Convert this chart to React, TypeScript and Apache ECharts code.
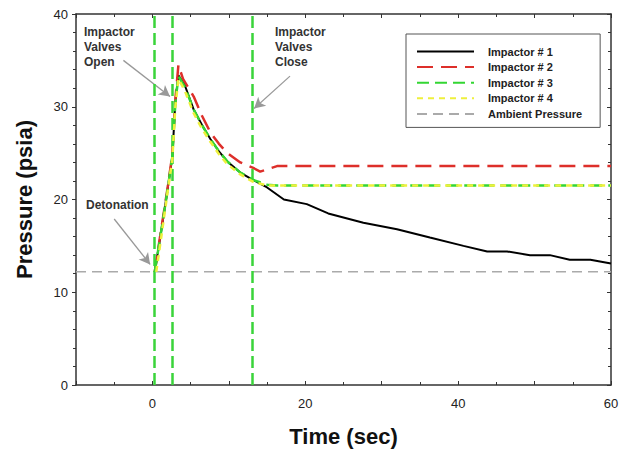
import React, { useEffect, useRef } from "react";
import * as echarts from "echarts";

const seriesNames = ["Impactor # 1", "Impactor # 2", "Impactor # 3", "Impactor # 4", "Ambient Pressure"];

const impactor1: [number, number][] = [
  [0.3, 12.2], [1.0, 15.8], [1.9, 20.6], [2.6, 24.6], [3.0, 30.6], [3.4, 33.4], [3.7, 33.0],
  [4.2, 32.4], [5.4, 29.7], [6.5, 28.0], [7.6, 26.5], [8.7, 25.2], [9.8, 24.1], [11.5, 22.9],
  [13.2, 22.1], [15.0, 21.3], [17.2, 20.0], [20.2, 19.5], [23.0, 18.5], [27.6, 17.5], [32.0, 16.8],
  [36.3, 15.9], [40.7, 15.0], [43.8, 14.4], [46.4, 14.4], [49.4, 14.0], [52.0, 14.0], [54.6, 13.5],
  [57.3, 13.5], [60.0, 13.1],
];

const impactor2: [number, number][] = [
  [0.3, 12.2], [1.0, 16.0], [1.9, 20.8], [2.6, 24.8], [3.0, 30.8], [3.4, 34.5], [4.0, 33.0],
  [5.4, 31.1], [6.5, 29.0], [7.6, 27.2], [8.7, 26.0], [9.8, 25.0], [11.5, 24.0], [13.2, 23.4],
  [14.1, 23.0], [16.3, 23.6], [60.0, 23.6],
];

const impactor3: [number, number][] = [
  [0.3, 12.2], [1.0, 15.8], [1.9, 20.6], [2.6, 24.6], [3.0, 30.4], [3.4, 33.3], [4.2, 32.2],
  [5.4, 29.7], [6.5, 28.0], [7.6, 26.5], [8.7, 25.2], [9.8, 24.1], [11.5, 22.9], [13.2, 22.1],
  [15.0, 21.6], [16.3, 21.5], [60.0, 21.5],
];

const impactor4: [number, number][] = [
  [0.5, 12.2], [1.2, 16.2], [1.9, 20.3], [2.6, 24.3], [3.0, 30.0], [3.4, 33.0], [4.2, 31.8],
  [5.4, 29.3], [6.5, 27.6], [7.6, 26.2], [8.7, 24.9], [9.8, 23.8], [11.5, 22.7], [13.2, 21.9],
  [15.0, 21.5], [60.0, 21.5],
];

const ambient: [number, number][] = [[-10, 12.2], [60, 12.2]];

const valveTimes = [0.25, 2.6, 13.1];

const arrows: { from: [number, number]; to: [number, number] }[] = [
  { from: [-3.8, 35.0], to: [2.3, 31.1] },
  { from: [18.0, 33.3], to: [13.3, 29.8] },
  { from: [-5.0, 17.9], to: [-0.3, 13.0] },
];

const xTicks = [0, 20, 40, 60];

export default function App() {
  const ref = useRef<HTMLDivElement>(null);

  useEffect(() => {
    if (!ref.current) return;
    const chart = echarts.init(ref.current, null, { renderer: "svg" });
    const font = "Liberation Sans";
    const axisLineStyle = { color: "#333", width: 1.5 };

    chart.setOption({
      animation: false,
      backgroundColor: "#fff",
      textStyle: { fontFamily: font },
      grid: { left: 76, right: 20, top: 14, bottom: 66, containLabel: false },
      legend: {
        data: seriesNames,
        orient: "vertical",
        left: 406,
        top: 34,
        padding: [12, 18, 8, 10],
        borderColor: "#555",
        borderWidth: 1,
        backgroundColor: "#fff",
        itemWidth: 57,
        itemHeight: 12,
        itemGap: 4.6,
        itemStyle: { opacity: 0 },
        textStyle: { fontFamily: font, fontSize: 11, fontWeight: "bold", color: "#222", padding: [0, 0, 0, 9] },
      },
      xAxis: [
        {
          type: "value",
          min: -10,
          max: 60,
          interval: 10,
          name: "Time (sec)",
          nameLocation: "middle",
          nameGap: 40,
          nameTextStyle: { fontFamily: font, fontSize: 22, fontWeight: "bold", color: "#111" },
          axisLine: { show: true, onZero: false, lineStyle: axisLineStyle },
          axisTick: { show: true, inside: true, length: 4, lineStyle: { color: "#333" } },
          minorTick: { show: true, splitNumber: 2, length: 3, lineStyle: { color: "#333" } },
          splitLine: { show: false },
          axisLabel: {
            fontFamily: font,
            fontSize: 13,
            color: "#222",
            margin: 12,
            formatter: (v: number) => (xTicks.includes(v) ? String(v) : ""),
          },
        },
        {
          type: "value",
          position: "top",
          min: -10,
          max: 60,
          interval: 10,
          axisLine: { show: true, onZero: false, lineStyle: axisLineStyle },
          axisTick: { show: true, inside: true, length: 4, lineStyle: { color: "#333" } },
          minorTick: { show: true, splitNumber: 2, length: 3, lineStyle: { color: "#333" } },
          splitLine: { show: false },
          axisLabel: { show: false },
        },
      ],
      yAxis: [
        {
          type: "value",
          min: 0,
          max: 40,
          interval: 10,
          name: "Pressure (psia)",
          nameLocation: "middle",
          nameGap: 41,
          nameTextStyle: { fontFamily: font, fontSize: 22, fontWeight: "bold", color: "#111" },
          axisLine: { show: true, onZero: false, lineStyle: axisLineStyle },
          axisTick: { show: true, length: 4, lineStyle: { color: "#333" } },
          minorTick: { show: true, splitNumber: 5, length: 3, lineStyle: { color: "#333" } },
          splitLine: { show: false },
          axisLabel: { fontFamily: font, fontSize: 13, color: "#222", margin: 8 },
        },
        {
          type: "value",
          position: "right",
          min: 0,
          max: 40,
          interval: 10,
          axisLine: { show: true, onZero: false, lineStyle: axisLineStyle },
          axisTick: { show: true, inside: true, length: 4, lineStyle: { color: "#333" } },
          minorTick: { show: true, splitNumber: 5, length: 3, lineStyle: { color: "#333" } },
          splitLine: { show: false },
          axisLabel: { show: false },
        },
      ],
      series: [
        {
          name: "Ambient Pressure",
          type: "line",
          data: ambient,
          symbol: "none",
          z: 1,
          lineStyle: { color: "#aaa", width: 1.5, type: [10, 6] },
          itemStyle: { color: "#aaa" },
          markLine: {
            silent: true,
            symbol: ["none", "arrow"],
            symbolSize: [9, 11],
            label: { show: false },
            lineStyle: { color: "#999", width: 1.3, type: "solid" },
            data: arrows.map((a) => [{ coord: a.from }, { coord: a.to }]),
          },
        },
        {
          name: "Valves",
          type: "line",
          data: [],
          symbol: "none",
          z: 2,
          markLine: {
            silent: true,
            symbol: ["none", "none"],
            label: { show: false },
            lineStyle: { color: "#3ad43a", width: 2.5, type: [12, 5] },
            data: valveTimes.map((t) => ({ xAxis: t })),
          },
        },
        {
          name: "Impactor # 1",
          type: "line",
          data: impactor1,
          symbol: "none",
          z: 3,
          lineStyle: { color: "#000", width: 2, type: "solid" },
          itemStyle: { color: "#000" },
        },
        {
          name: "Impactor # 2",
          type: "line",
          data: impactor2,
          symbol: "none",
          z: 4,
          lineStyle: { color: "#dd2f2a", width: 2.5, type: [16, 8] },
          itemStyle: { color: "#dd2f2a" },
        },
        {
          name: "Impactor # 3",
          type: "line",
          data: impactor3,
          symbol: "none",
          z: 5,
          lineStyle: { color: "#33d633", width: 2.5, type: [12, 6] },
          itemStyle: { color: "#33d633" },
        },
        {
          name: "Impactor # 4",
          type: "line",
          data: impactor4,
          symbol: "none",
          z: 6,
          lineStyle: { color: "#eef03c", width: 2.5, type: [6, 5] },
          itemStyle: { color: "#eef03c" },
        },
      ],
      graphic: [
        {
          type: "text",
          left: 84,
          top: 24,
          style: {
            text: "Impactor\nValves\nOpen",
            fontFamily: font,
            fontSize: 12,
            fontWeight: "bold",
            lineHeight: 15,
            fill: "#333",
          },
        },
        {
          type: "text",
          left: 275,
          top: 24,
          style: {
            text: "Impactor\nValves\nClose",
            fontFamily: font,
            fontSize: 12,
            fontWeight: "bold",
            lineHeight: 15,
            fill: "#333",
          },
        },
        {
          type: "text",
          left: 86,
          top: 199,
          style: {
            text: "Detonation",
            fontFamily: font,
            fontSize: 12,
            fontWeight: "bold",
            fill: "#333",
          },
        },
      ],
    });

    return () => chart.dispose();
  }, []);

  return <div ref={ref} style={{ width: 631, height: 452, position: "absolute", left: 0, top: 0 }} />;
}
